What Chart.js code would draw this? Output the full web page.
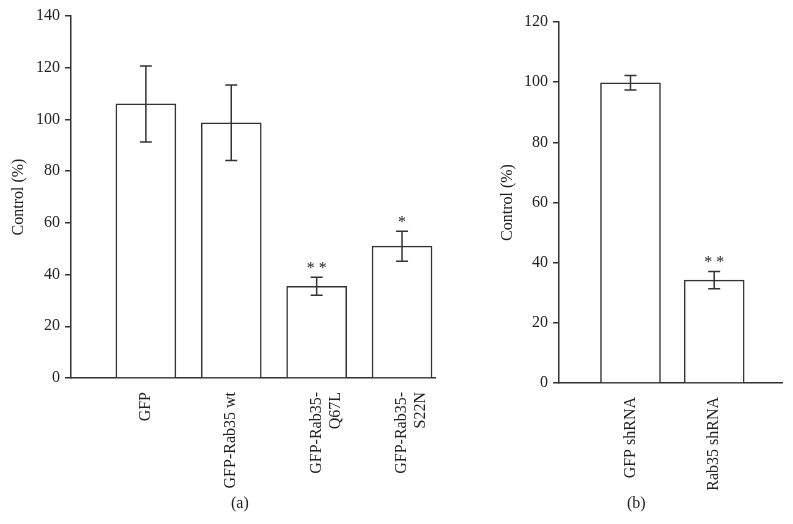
<!DOCTYPE html>
<html>
<head>
<meta charset="utf-8">
<script src="https://cdn.jsdelivr.net/npm/chart.js@4.4.1/dist/chart.umd.min.js"></script>
<style>
  body { margin: 0; background: #fff; }
  #wrap { position: relative; width: 793px; height: 524px; }
  canvas { position: absolute; top: 0; }
  .cap { position: absolute; top: 494px; font: 16px 'Liberation Serif', serif; color: #222; }
</style>
</head>
<body>
<div id="wrap">
  <canvas id="chart-a" width="450" height="524" style="left:0"></canvas>
  <canvas id="chart-b" width="313" height="524" style="left:480px"></canvas>
  <div class="cap" style="left:231px">(a)</div>
  <div class="cap" style="left:627px">(b)</div>
</div>
<script>
// panel (a)
const labelsA = ['GFP', 'GFP-Rab35 wt', ['GFP-Rab35-', 'Q67L'], ['GFP-Rab35-', 'S22N']];
const valuesA = [106, 98.7, 35.5, 51];
const errorsA = [14.7, 14.6, 3.5, 5.8];
const starsA = ['', '', '* *', '*'];

// panel (b)
const labelsB = ['GFP shRNA', 'Rab35 shRNA'];
const valuesB = [99.8, 34.2];
const errorsB = [2.4, 2.9];
const starsB = ['', '* *'];

const serif = "'Liberation Serif', 'DejaVu Serif', serif";
const ink = '#333';

const makeChart = (id, labels, values, errors, stars, cfg) => {
  const ctx = document.getElementById(id).getContext('2d');

  // error whiskers + significance marks
  const errorBars = {
    id: 'errorBars',
    afterDatasetsDraw: (chart) => {
      const { ctx: c, scales: { x, y } } = chart;
      c.save();
      c.strokeStyle = ink;
      c.lineWidth = 1.5;
      c.fillStyle = '#222';
      c.font = `16px ${serif}`;
      c.textAlign = 'center';
      c.textBaseline = 'alphabetic';
      values.forEach((v, i) => {
        const px = x.getPixelForValue(i);
        const top = y.getPixelForValue(v + errors[i]);
        const bot = y.getPixelForValue(v - errors[i]);
        c.beginPath();
        c.moveTo(px, top); c.lineTo(px, bot);
        c.moveTo(px - 6, top); c.lineTo(px + 6, top);
        c.moveTo(px - 6, bot); c.lineTo(px + 6, bot);
        c.stroke();
        if (stars[i]) c.fillText(stars[i], px, top - 4);
      });
      c.restore();
    },
  };

  return new Chart(ctx, {
    type: 'bar',
    data: {
      datasets: [
        {
          data: values.map((v, i) => ({ x: i, y: v })),
          backgroundColor: '#fff',
          borderColor: ink,
          borderWidth: 1.5,
          barThickness: 60,
        },
      ],
    },
    options: {
      responsive: false,
      animation: false,
      layout: { padding: { top: cfg.top, right: cfg.right, left: 0, bottom: 0 } },
      plugins: {
        legend: { display: false },
        tooltip: { enabled: false },
      },
      scales: {
        x: {
          type: 'linear',
          offset: false,
          min: cfg.xMin,
          max: cfg.xMax,
          afterFit: (scale) => {
            scale.height = cfg.xHeight;
            scale.paddingLeft = 0;
            scale.paddingRight = 0;
          },
          grid: { display: false },
          border: { color: ink, width: 1.5 },
          ticks: {
            stepSize: 1,
            autoSkip: false,
            minRotation: 90,
            maxRotation: 90,
            padding: 6,
            color: '#222',
            font: { family: serif, size: 16 },
            callback: (v) => (Number.isInteger(v) && labels[v] ? labels[v] : ''),
          },
        },
        y: {
          min: 0,
          max: cfg.yMax,
          afterFit: (scale) => { scale.width = cfg.yWidth; },
          grid: { drawOnChartArea: false, tickLength: 6, color: ink, lineWidth: 1.5 },
          border: { color: ink, width: 1.5 },
          ticks: {
            stepSize: 20,
            padding: 5,
            color: '#222',
            font: { family: serif, size: 16 },
          },
          title: {
            display: true,
            text: 'Control (%)',
            color: '#222',
            font: { family: serif, size: 16 },
            padding: { top: cfg.titlePad, bottom: 0 },
          },
        },
      },
    },
    plugins: [errorBars],
  });
};

makeChart('chart-a', labelsA, valuesA, errorsA, starsA, {
  yMax: 140, xMin: -0.877, xMax: 3.386, yWidth: 71, top: 16, right: 15, xHeight: 146, titlePad: 9,
});
makeChart('chart-b', labelsB, valuesB, errorsB, starsB, {
  yMax: 120, xMin: -0.854, xMax: 1.81, yWidth: 79, top: 22, right: 11, xHeight: 141, titlePad: 18,
});
</script>
</body>
</html>
